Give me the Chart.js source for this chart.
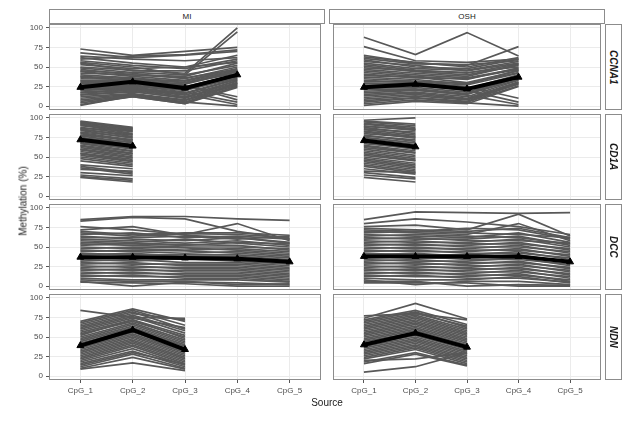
<!DOCTYPE html>
<html>
<head>
<meta charset="utf-8">
<script src="https://cdn.jsdelivr.net/npm/chart.js@4"></script>
<style>
  body { margin: 0; background: #fff; }
  #wrap { position: relative; width: 629px; height: 424px; background: #fff; font-family: "Liberation Sans", Arial, sans-serif; overflow: hidden; }
  .strip { position: absolute; box-sizing: border-box; border: 1px solid #8c8c8c; background: #fff; color: #1a1a1a; display: flex; align-items: center; justify-content: center; }
  .top { font-size: 8px; }
  .side { font-size: 10px; font-weight: bold; font-style: italic; writing-mode: vertical-rl; }
  .title { position: absolute; font-size: 10px; color: #1a1a1a; white-space: nowrap; }
</style>
</head>
<body>
<div id="wrap"></div>
<script>
// categories / ticks
const CATS = ['CpG_1', 'CpG_2', 'CpG_3', 'CpG_4', 'CpG_5'];
const Y_TICKS = [0, 25, 50, 75, 100];
const SOURCES = ['MI', 'OSH'];
const GENES = ['CCNA1', 'CD1A', 'DCC', 'NDN'];

// per-sample methylation (%) lines
const MI_CCNA1 = [
  [73,65,70,75],[68,62,65,70],[64,60,58,62],[62,55,50,65],[60,64,66,72],[58,52,48,60],
  [56,50,40,95],[55,45,45,58],[53,48,50,56],[50,46,42,100],[49,43,40,52],[47,40,38,55],
  [45,42,35,50],[44,38,33,48],[42,40,36,47],[40,36,30,45],[38,35,32,46],[37,33,28,44],
  [35,34,30,42],[33,32,27,8],[32,30,25,40],[30,31,26,12],[29,28,22,38],[27,30,24,41],
  [26,27,20,36],[25,26,18,5],[24,25,21,39],[22,24,17,35],[21,23,16,34],[20,22,15,2],
  [18,21,14,32],[17,20,12,30],[15,19,10,33],[14,18,11,28],[12,16,8,29],[10,15,7,27],
  [8,14,5,25],[6,13,4,30],[4,12,3,24],[2,12,3,26],[1,13,5,0]
];
const OSH_CCNA1 = [
  [88,66,94,64],[76,58,56,60],[65,55,52,76],[63,56,50,62],[61,54,53,58],[59,50,48,60],
  [57,52,45,55],[55,48,46,57],[53,46,42,54],[51,44,40,52],[49,45,43,50],[47,42,38,53],
  [45,40,36,48],[43,38,34,49],[41,36,35,47],[39,37,30,45],[37,34,28,46],[35,32,29,43],
  [33,30,25,10],[31,31,27,42],[29,28,22,40],[27,27,20,5],[25,26,21,39],[23,24,18,37],
  [21,22,16,36],[19,21,14,2],[17,20,15,34],[15,18,12,33],[13,17,10,31],[11,15,9,30],
  [9,13,8,28],[7,11,6,29],[5,10,5,26],[3,8,4,0],[1,6,3,25]
];
const MI_CD1A = [
  [96,88],[95,87],[94,86],[93,82],[92,85],[91,80],[90,84],[88,79],[87,83],[86,76],[85,78],
  [84,74],[82,75],[81,72],[80,70],[78,72],[77,68],[75,66],[74,69],[72,64],[71,62],[70,60],
  [68,61],[67,58],[65,57],[64,55],[62,54],[60,52],[59,50],[57,49],[55,47],[54,45],[52,44],
  [50,42],[48,40],[45,38],[40,35],[38,30],[36,28],[34,32],[30,26],[27,22],[25,20],[24,18]
];
const OSH_CD1A = [
  [97,100],[96,92],[95,90],[93,88],[92,86],[90,84],[89,85],[88,80],[86,82],[85,78],[83,76],
  [82,74],[80,75],[78,70],[77,72],[75,68],[74,66],[72,64],[70,62],[69,60],[67,61],[65,58],
  [64,56],[62,55],[60,52],[58,50],[56,48],[54,46],[52,45],[50,42],[48,40],[46,38],[44,36],
  [42,34],[40,32],[38,30],[35,28],[32,30],[30,24],[27,22],[24,18]
];
const MI_DCC = [
  [85,89,89,86,84],[83,88,86,70,60],[76,72,66,80,58],[72,76,65,62,55],[70,66,68,68,65],
  [68,64,67,66,62],[66,68,62,64,60],[64,60,58,62,56],[62,62,64,60,64],[60,58,55,58,52],
  [58,56,60,55,50],[56,54,52,56,54],[54,52,50,50,48],[52,55,53,52,46],[50,48,46,48,44],
  [48,50,49,46,42],[46,44,42,44,40],[44,46,45,42,38],[42,40,40,40,36],[40,42,38,38,34],
  [38,36,36,36,32],[36,38,34,34,30],[34,32,35,32,28],[32,34,30,30,26],[30,28,28,28,24],
  [28,30,26,26,22],[26,24,24,24,20],[24,26,22,22,18],[22,20,20,20,16],[20,22,18,18,14],
  [18,16,16,16,12],[16,18,14,14,10],[14,12,12,12,8],[12,14,10,10,6],[10,8,8,8,5],
  [8,6,6,2,3],[6,0,5,4,2],[5,4,3,0,0]
];
const OSH_DCC = [
  [85,95,94,93,94],[80,86,82,76,66],[76,78,72,92,64],[74,72,70,74,62],[72,70,74,72,60],
  [70,68,66,80,58],[68,70,68,66,62],[66,64,62,68,56],[64,66,64,62,54],[62,60,60,64,52],
  [60,62,58,58,55],[58,56,56,60,50],[56,58,54,54,48],[54,52,52,56,46],[52,54,50,50,44],
  [50,48,48,52,42],[48,50,46,46,40],[46,44,44,48,38],[44,46,42,42,36],[42,40,40,44,34],
  [40,42,38,38,32],[38,36,36,40,30],[36,38,34,34,28],[34,32,32,36,26],[32,34,30,30,24],
  [30,28,28,32,22],[28,30,26,26,20],[26,24,24,28,18],[24,26,22,22,16],[22,20,20,24,14],
  [20,22,18,18,12],[18,16,16,20,10],[16,18,14,14,8],[14,12,12,16,6],[12,14,10,10,5],
  [10,8,8,12,4],[8,2,6,6,2],[6,6,0,2,1],[4,4,4,0,0]
];
const MI_NDN = [
  [84,75,74],[70,86,70],[68,84,65],[66,82,60],[64,80,72],[62,78,58],[60,76,55],[58,74,62],
  [56,72,52],[54,70,50],[52,72,48],[50,68,46],[48,66,44],[46,64,42],[44,62,40],[42,60,38],
  [40,58,36],[38,56,34],[36,54,32],[34,52,30],[32,50,28],[30,48,26],[28,46,24],[26,44,22],
  [24,42,20],[22,40,18],[20,38,16],[18,35,14],[16,32,12],[14,30,15],[12,28,10],[10,24,9],
  [9,17,7]
];
const OSH_NDN = [
  [77,80,72],[74,93,73],[72,84,66],[70,82,62],[68,80,64],[66,78,60],[64,76,58],[62,74,56],
  [60,72,54],[58,70,52],[56,68,50],[54,66,48],[52,64,46],[50,62,44],[48,60,42],[46,58,40],
  [44,56,38],[42,54,36],[40,52,34],[38,50,32],[36,48,30],[34,46,28],[32,44,26],[30,42,24],
  [28,40,22],[26,38,20],[24,36,18],[22,34,16],[20,22,30],[18,30,14],[16,28,13],[5,12,30]
];

// group means (thick black line)
const MEAN_MI_CCNA1 = [24, 31, 23, 40];
const MEAN_OSH_CCNA1 = [24, 28, 22, 37];
const MEAN_MI_CD1A = [72, 64];
const MEAN_OSH_CD1A = [71, 63];
const MEAN_MI_DCC = [37, 37, 36, 35, 31];
const MEAN_OSH_DCC = [38, 38, 38, 38, 31];
const MEAN_MI_NDN = [39, 59, 34];
const MEAN_OSH_NDN = [40, 55, 37];

const LINES = {
  MI: [MI_CCNA1, MI_CD1A, MI_DCC, MI_NDN],
  OSH: [OSH_CCNA1, OSH_CD1A, OSH_DCC, OSH_NDN]
};
const MEANS = {
  MI: [MEAN_MI_CCNA1, MEAN_MI_CD1A, MEAN_MI_DCC, MEAN_MI_NDN],
  OSH: [MEAN_OSH_CCNA1, MEAN_OSH_CD1A, MEAN_OSH_DCC, MEAN_OSH_NDN]
};

// layout
const FONT = '"Liberation Sans", Arial, sans-serif';
const ROW_TOP = [24, 114, 204, 294];
const PANEL_H = 86;
const COL_LEFT = [49, 329];
const PANEL_W = 276;
const PAD = 8;
const wrap = document.getElementById('wrap');

const frame = {
  id: 'frame',
  afterDraw(chart) {
    const { ctx, chartArea: a } = chart;
    ctx.save();
    ctx.strokeStyle = '#8c8c8c';
    ctx.lineWidth = 1;
    ctx.strokeRect(Math.round(a.left) + 0.5, Math.round(a.top) + 0.5, Math.round(a.width) - 1, Math.round(a.height) - 1);
    ctx.restore();
  }
};

function addDiv(cls, text, css) {
  const d = document.createElement('div');
  d.className = cls;
  d.textContent = text;
  d.style.cssText = css;
  wrap.appendChild(d);
  return d;
}

function makePanel(row, col) {
  const src = SOURCES[col];
  const bottom = row === GENES.length - 1;
  const left = col === 0;
  const yAxisW = left ? 35 : 0;
  const xAxisH = bottom ? 22 : 0;
  const padL = left ? 0 : 1;
  const cx = COL_LEFT[col] - yAxisW - padL;
  const cw = padL + yAxisW + PANEL_W + 1;
  const ch = PAD + PANEL_H + xAxisH + PAD;

  const c = document.createElement('canvas');
  c.width = cw;
  c.height = ch;
  c.style.cssText = `position:absolute;left:${cx}px;top:${ROW_TOP[row] - PAD}px;width:${cw}px;height:${ch}px`;
  wrap.appendChild(c);

  const toPts = vals => vals.map((v, i) => ({ x: i, y: v }));
  // mean first so it is painted on top
  const datasets = [{
    data: toPts(MEANS[src][row]),
    borderColor: '#000',
    backgroundColor: '#000',
    borderWidth: 4,
    pointStyle: 'triangle',
    pointRadius: 4,
    pointBorderWidth: 1,
    tension: 0
  }];
  LINES[src][row].forEach(vals => {
    datasets.push({
      data: toPts(vals),
      borderColor: '#585858',
      borderWidth: 1.7,
      pointRadius: 0,
      tension: 0
    });
  });

  new Chart(c, {
    type: 'line',
    data: { datasets },
    options: {
      responsive: false,
      animation: false,
      events: [],
      layout: { padding: { top: PAD, bottom: PAD, left: padL, right: 1 } },
      plugins: { legend: { display: false }, tooltip: { enabled: false } },
      scales: {
        x: {
          type: 'linear',
          min: -0.6,
          max: 4.6,
          afterBuildTicks: s => { s.ticks = CATS.map((_, i) => ({ value: i })); },
          afterFit: s => { s.height = xAxisH; },
          grid: { color: '#ebebeb', drawTicks: bottom, tickLength: 3, tickColor: '#555' },
          border: { display: false },
          ticks: {
            display: bottom, autoSkip: false, maxRotation: 0, padding: 3,
            color: '#4d4d4d', font: { family: FONT, size: 8 },
            callback: v => CATS[v]
          }
        },
        y: {
          min: -5,
          max: 105,
          afterBuildTicks: s => { s.ticks = Y_TICKS.map(v => ({ value: v })); },
          afterFit: s => { s.width = yAxisW; },
          grid: { color: '#ebebeb', drawTicks: left, tickLength: 3, tickColor: '#555' },
          border: { display: false },
          ticks: {
            display: left, padding: 3,
            color: '#4d4d4d', font: { family: FONT, size: 8 }
          }
        }
      }
    },
    plugins: [frame]
  });
}

GENES.forEach((g, row) => SOURCES.forEach((s, col) => makePanel(row, col)));

// facet strips
SOURCES.forEach((s, col) => {
  addDiv('strip top', s, `left:${COL_LEFT[col]}px;top:9px;width:${PANEL_W}px;height:15px;`);
});
GENES.forEach((g, row) => {
  addDiv('strip side', g, `left:605px;top:${ROW_TOP[row]}px;width:17px;height:${PANEL_H}px;`);
});

// axis titles
addDiv('title', 'Source', 'left:327px;top:402px;transform:translate(-50%,-50%);');
addDiv('title', 'Methylation (%)', 'left:23px;top:201px;transform:translate(-50%,-50%) rotate(-90deg);');
</script>
</body>
</html>
